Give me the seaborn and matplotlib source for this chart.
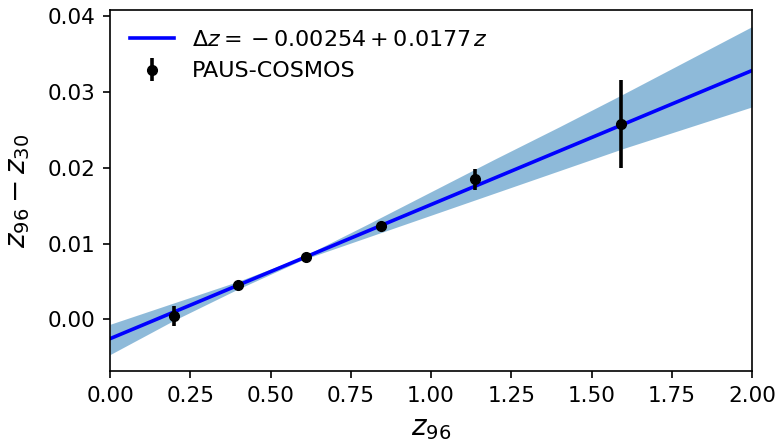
import numpy as np
import pandas as pd
import matplotlib
matplotlib.use("Agg")
import matplotlib.pyplot as plt
import seaborn as sns

# measured points
z_obs = [0.199, 0.398, 0.612, 0.844, 1.137, 1.592]
dz_obs = [0.0005, 0.0046, 0.0083, 0.0123, 0.0185, 0.0258]
dz_err = [0.0013, 0.0004, 0.0002, 0.0003, 0.0014, 0.0058]

# fit line (from legend coefficients) at the axis ends
fit_z = [0.0, 2.0]
fit_dz = [-0.00254, 0.03286]

# confidence band
band_z = [0.0, 0.2, 0.4, 0.6, 0.8, 1.0, 1.2, 1.4, 1.6, 1.8, 2.0]
band_lo = [-0.00464, -0.0001, 0.00404, 0.00788, 0.01082, 0.01376,
           0.0167, 0.01964, 0.02258, 0.02532, 0.02806]
band_hi = [-0.00064, 0.0022, 0.00504, 0.00828, 0.01252, 0.01686,
           0.0212, 0.02544, 0.02978, 0.03422, 0.03866]

fit = pd.DataFrame({"z": fit_z, "dz": fit_dz})

fig = plt.figure(figsize=(7.78, 4.43), dpi=100)
ax = fig.add_axes([0.1414, 0.1625, 0.8252, 0.8145])

ax.fill_between(band_z, band_lo, band_hi, color="C0", alpha=0.5, linewidth=0)
sns.lineplot(data=fit, x="z", y="dz", ax=ax, color="blue", linewidth=2.6,
             label=r"$\Delta z = {} - 0.00254 + 0.0177\,z$")
ax.errorbar(z_obs, dz_obs, yerr=dz_err, fmt="o", color="black",
            markersize=7, elinewidth=2.6, capsize=0, label="PAUS-COSMOS")

ax.set_xlim(0, 2)
ax.set_xlabel(r"$z_{96}$", fontsize=20, labelpad=6)
ax.set_ylabel(r"$z_{96} - z_{30}$", fontsize=20, labelpad=11)
ax.tick_params(labelsize=15.5, length=5.25, width=1.2, pad=5.25)
for sp in ax.spines.values():
    sp.set_linewidth(1.2)
ax.legend(loc="upper left", frameon=False, fontsize=16)

fig.savefig("out.png", dpi=100)
